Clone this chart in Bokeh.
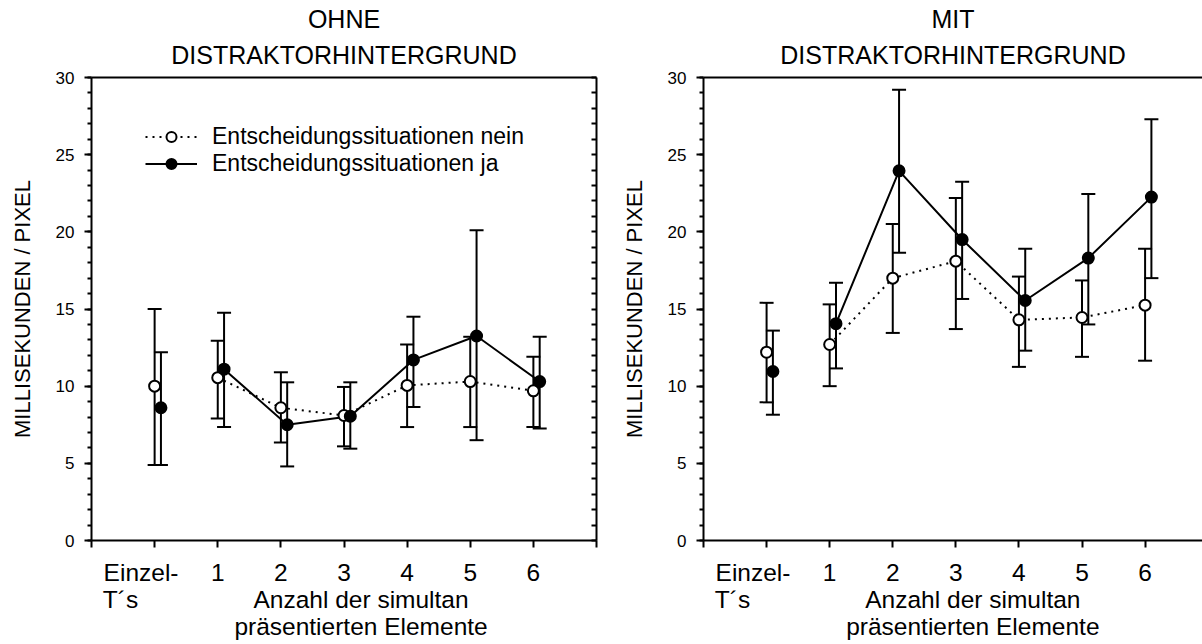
from bokeh.plotting import figure
from bokeh.models import (ColumnDataSource, Whisker, TeeHead, FixedTicker, LinearAxis,
                          Legend, LegendItem, Range1d, Title)
from bokeh.layouts import row
from bokeh.embed import file_html
from bokeh.resources import INLINE

FONT = "Liberation Sans"

# ---- data ----
positions = [0, 1, 2, 3, 4, 5, 6]
tick_labels = ["Einzel-", "1", "2", "3", "4", "5", "6"]
y_ticks = [0, 5, 10, 15, 20, 25, 30]
label_nein = "Entscheidungssituationen nein"
label_ja = "Entscheidungssituationen ja"

# OHNE Distraktorhintergrund
ohne_nein_mean = [10.0, 10.55, 8.6, 8.1, 10.05, 10.3, 9.7]
ohne_nein_upper = [15.0, 12.95, 10.9, 9.95, 12.7, 13.2, 11.9]
ohne_nein_lower = [4.9, 7.9, 6.35, 6.1, 7.35, 7.35, 7.35]
ohne_ja_mean = [8.6, 11.1, 7.5, 8.05, 11.7, 13.25, 10.3]
ohne_ja_upper = [12.2, 14.75, 10.25, 10.25, 14.5, 20.1, 13.2]
ohne_ja_lower = [4.9, 7.35, 4.8, 5.95, 8.65, 6.5, 7.25]

# MIT Distraktorhintergrund
mit_nein_mean = [12.2, 12.7, 17.0, 18.1, 14.3, 14.45, 15.25]
mit_nein_upper = [15.4, 15.3, 20.5, 22.2, 17.1, 16.85, 18.9]
mit_nein_lower = [8.95, 10.0, 13.45, 13.7, 11.25, 11.9, 11.65]
mit_ja_mean = [10.95, 14.05, 23.95, 19.5, 15.55, 18.3, 22.25]
mit_ja_upper = [13.6, 16.7, 29.2, 23.25, 18.9, 22.45, 27.3]
mit_ja_lower = [8.15, 11.15, 18.65, 15.65, 12.3, 14.0, 17.0]

JA_OFFSET = 0.1
EINZEL_POS = -0.215      # centre of the "Einzel-" text
TS_POS = -0.54           # centre of the "T´s" text
XLABEL_POS = 3.27        # centre of the x-axis caption
XFONT = "24.5px"


def text_axis(ticks, labels, standoff, size=XFONT):
    ax = LinearAxis(ticker=FixedTicker(ticks=ticks),
                    major_label_overrides={t: l for t, l in zip(ticks, labels)})
    ax.axis_line_color = None
    ax.major_tick_line_color = None
    ax.minor_tick_line_color = None
    ax.major_tick_out = 0
    ax.major_tick_in = 0
    ax.minor_tick_out = 0
    ax.minor_tick_in = 0
    ax.major_label_standoff = standoff
    ax.major_label_text_font = FONT
    ax.major_label_text_font_size = size
    ax.major_label_text_color = "black"
    return ax


def tick_only_axis(minor_positions, tick_in, tick_out):
    # an axis that has no major ticks, hence no tick texts; its marks are minor ticks
    ax = LinearAxis(ticker=FixedTicker(ticks=[], minor_ticks=minor_positions))
    ax.axis_line_width = 2
    ax.minor_tick_line_width = 2
    ax.minor_tick_in = tick_in
    ax.minor_tick_out = tick_out
    ax.major_tick_in = 0
    ax.major_tick_out = 0
    ax.major_label_standoff = 0
    return ax


def make_panel(title1, title2, nm, nu, nl, jm, ju, jl, width, bl, br, x_end,
               right_axis, legend):
    p = figure(width=width, height=644, x_range=Range1d(-1, x_end), y_range=Range1d(0, 30),
               output_backend="svg", toolbar_location=None, title=None,
               x_axis_location=None, y_axis_location=None,
               min_border_left=bl, min_border_right=br, min_border_top=77, min_border_bottom=104,
               outline_line_color=None, background_fill_color="white", border_fill_color="white")
    p.grid.visible = False

    # left axis
    yax = LinearAxis(ticker=FixedTicker(ticks=y_ticks, minor_ticks=list(range(0, 31))),
                     axis_label="MILLISEKUNDEN / PIXEL")
    yax.axis_line_width = 2
    yax.major_tick_line_width = 2
    yax.minor_tick_line_width = 2
    yax.major_tick_out = 7
    yax.major_tick_in = 0
    yax.minor_tick_out = 4
    yax.minor_tick_in = 0
    yax.major_label_text_font = FONT
    yax.major_label_text_font_size = "17px"
    yax.major_label_text_color = "black"
    yax.major_label_standoff = 10
    yax.axis_label_text_font = FONT
    yax.axis_label_text_font_size = "22px"
    yax.axis_label_text_font_style = "normal"
    yax.axis_label_text_color = "black"
    yax.axis_label_standoff = 18
    p.add_layout(yax, "left")

    # bottom axis with tick marks only
    p.add_layout(tick_only_axis(list(range(-1, 8)), 0, 7), "below")

    # tick texts and caption, stacked below
    row1_ticks = [EINZEL_POS] + positions[1:]
    p.add_layout(text_axis(row1_ticks, tick_labels, 11), "below")
    p.add_layout(text_axis([TS_POS, XLABEL_POS], ["T´s", "Anzahl der simultan"], -3), "below")
    p.add_layout(text_axis([XLABEL_POS], ["präsentierten Elemente"], -3), "below")

    # top line
    p.add_layout(tick_only_axis([], 0, 0), "above")

    # title lines (closest to the frame first)
    p.add_layout(Title(text=title2, align="center", text_font=FONT, text_font_size="25px",
                       text_font_style="normal", text_color="black", standoff=17), "above")
    p.add_layout(Title(text=title1, align="center", text_font=FONT, text_font_size="25px",
                       text_font_style="normal", text_color="black", standoff=-4), "above")

    if right_axis:
        p.add_layout(tick_only_axis(list(range(0, 31)), 5, 0), "right")

    xo = positions
    xj = [x + JA_OFFSET for x in positions]
    src_n = ColumnDataSource(dict(x=xo, m=nm, u=nu, l=nl))
    src_j = ColumnDataSource(dict(x=xj, m=jm, u=ju, l=jl))

    ln = p.line(xo[1:], nm[1:], line_color="black", line_width=2, line_dash="2 5")
    lj = p.line(xj[1:], jm[1:], line_color="black", line_width=2)

    for src in (src_n, src_j):
        w = Whisker(base="x", upper="u", lower="l", source=src, line_width=2, line_color="black",
                    upper_head=TeeHead(size=14, line_width=2, line_color="black"),
                    lower_head=TeeHead(size=14, line_width=2, line_color="black"))
        p.add_layout(w)

    sn = p.scatter("x", "m", source=src_n, size=11, fill_color="white", line_color="black",
                   line_width=2)
    sj = p.scatter("x", "m", source=src_j, size=11, fill_color="black", line_color="black",
                   line_width=2)

    if legend:
        lg = Legend(items=[LegendItem(label=label_nein, renderers=[ln, sn]),
                           LegendItem(label=label_ja, renderers=[lj, sj])],
                    location=(54, 363), glyph_width=52, glyph_height=25, label_height=25,
                    label_standoff=15, spacing=0, padding=0, margin=0,
                    border_line_color=None, background_fill_alpha=0,
                    label_text_font=FONT, label_text_font_size="23px",
                    label_text_color="black")
        p.add_layout(lg)
    return p


p1 = make_panel("OHNE", "DISTRAKTORHINTERGRUND", ohne_nein_mean, ohne_nein_upper, ohne_nein_lower,
                ohne_ja_mean, ohne_ja_upper, ohne_ja_lower, 600, 91, 4, 7, True, True)
p2 = make_panel("MIT", "DISTRAKTORHINTERGRUND", mit_nein_mean, mit_nein_upper, mit_nein_lower,
                mit_ja_mean, mit_ja_upper, mit_ja_lower, 602, 103, 0, 6.91, False, False)

layout = row(p1, p2)
open("out.html", "w").write(file_html(layout, INLINE))
